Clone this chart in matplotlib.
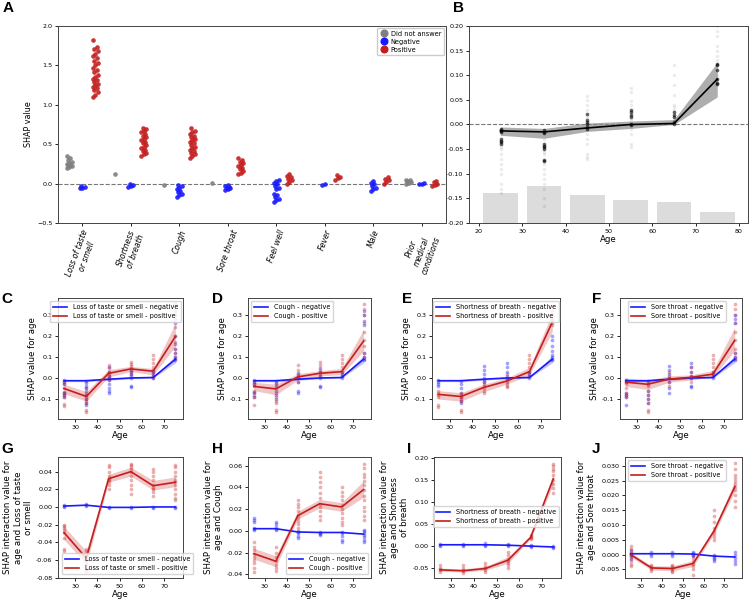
import matplotlib
matplotlib.use("Agg")
import matplotlib.pyplot as plt
from matplotlib.lines import Line2D

plt.rcParams['font.family'] = ['DejaVu Sans']
plt.rcParams['axes.edgecolor'] = '#444444'
plt.rcParams['axes.linewidth'] = 0.7
plt.rcParams['xtick.major.size'] = 2.5
plt.rcParams['ytick.major.size'] = 2.5
plt.rcParams['xtick.major.width'] = 0.6
plt.rcParams['ytick.major.width'] = 0.6
plt.rcParams['xtick.major.pad'] = 1.5
plt.rcParams['ytick.major.pad'] = 1.5

# ---------------- data: panel A ----------------
categories = ["Loss of taste\nor smell", "Shortness\nof breath", "Cough", "Sore throat",
              "Feel well", "Fever", "Male", "Prior\nmedical\nconditions"]
a_dna = [
    [0.20, 0.21, 0.22, 0.23, 0.24, 0.25, 0.26, 0.28, 0.30, 0.33, 0.35],
    [0.12],
    [-0.02],
    [0.01],
    [],
    [],
    [],
    [0.00, 0.01, 0.02, 0.03, 0.04, 0.05],
]
a_neg = [
    [-0.06, -0.05, -0.04, -0.03],
    [-0.04, -0.03, -0.02, -0.01],
    [-0.17, -0.15, -0.13, -0.11, -0.09, -0.07, -0.05, -0.03, -0.02],
    [-0.08, -0.07, -0.06, -0.05, -0.04, -0.03, -0.02],
    [-0.23, -0.21, -0.19, -0.17, -0.15, -0.13, -0.07, -0.05, -0.03, -0.01, 0.01, 0.03, 0.05],
    [-0.012, -0.005],
    [-0.09, -0.07, -0.05, -0.03, -0.01, 0.01, 0.03],
    [-0.01, 0.00, 0.01],
]
a_pos = [
    [1.10, 1.13, 1.16, 1.19, 1.21, 1.23, 1.25, 1.27, 1.29, 1.31, 1.33, 1.35, 1.38, 1.41,
     1.44, 1.47, 1.50, 1.53, 1.56, 1.59, 1.62, 1.65, 1.68, 1.71, 1.73, 1.82],
    [0.35, 0.37, 0.39, 0.41, 0.43, 0.45, 0.47, 0.49, 0.51, 0.53, 0.55, 0.57, 0.59, 0.61,
     0.63, 0.65, 0.67, 0.69, 0.71],
    [0.33, 0.35, 0.37, 0.39, 0.41, 0.43, 0.45, 0.47, 0.49, 0.51, 0.53, 0.55, 0.57, 0.59,
     0.61, 0.63, 0.65, 0.67, 0.70],
    [0.12, 0.14, 0.16, 0.18, 0.20, 0.22, 0.24, 0.26, 0.28, 0.30, 0.32],
    [0.00, 0.02, 0.04, 0.06, 0.08, 0.10, 0.12],
    [0.05, 0.07, 0.09, 0.11],
    [0.00, 0.02, 0.04, 0.06, 0.08],
    [-0.03, -0.015, 0.00, 0.015, 0.03],
]

# ---------------- data: panel B ----------------
ages = [25, 35, 45, 55, 65, 75]
b_mean = [-0.013, -0.015, -0.007, 0.000, 0.002, 0.092]
b_lo = [-0.022, -0.028, -0.014, -0.008, 0.000, 0.056]
b_hi = [-0.005, -0.008, 0.003, 0.007, 0.010, 0.126]
b_dense = [
    [-0.010, -0.012, -0.014, -0.016, -0.030, -0.033, -0.036, -0.040],
    [-0.012, -0.015, -0.018, -0.040, -0.043, -0.046, -0.050, -0.072, -0.075],
    [0.010, 0.005, 0.000, -0.005, -0.010, 0.022],
    [0.030, 0.025, 0.020, 0.015, 0.000, -0.002],
    [0.025, 0.020, 0.015, 0.005, 0.002],
    [0.123, 0.120, 0.110, 0.092, 0.085, 0.082],
]
b_faint = [
    [-0.02, -0.045, -0.05, -0.06, -0.07, -0.08, -0.09, -0.10, -0.12, -0.13, -0.14],
    [-0.03, -0.055, -0.06, -0.08, -0.09, -0.10, -0.11, -0.12, -0.13, -0.15, -0.165],
    [0.057, 0.05, 0.04, 0.03, 0.015, -0.02, -0.03, -0.04, -0.06, -0.065, -0.07],
    [0.075, 0.065, 0.047, 0.04, 0.01, -0.01, -0.02, -0.04, -0.045],
    [0.12, 0.10, 0.08, 0.06, 0.04, 0.035, 0.03, 0.01],
    [0.20, 0.19, 0.18, 0.16, 0.15, 0.14, 0.13, 0.10, 0.09],
]
b_hist = [0.060, 0.076, 0.056, 0.046, 0.042, 0.022]  # relative count of respondents per age bin

# ---------------- data: panels C-F (SHAP value for age) ----------------
neg_mean = [-0.013, -0.013, -0.006, 0.000, 0.002, 0.089]
neg_lo = [-0.017, -0.018, -0.011, -0.004, 0.000, 0.072]
neg_hi = [-0.009, -0.008, -0.002, 0.004, 0.005, 0.106]

c_pos_mean = [-0.050, -0.088, 0.022, 0.043, 0.032, 0.197]
c_pos_lo = [-0.075, -0.110, 0.005, 0.030, 0.015, 0.150]
c_pos_hi = [-0.030, -0.065, 0.040, 0.055, 0.045, 0.260]
c_neg_pts = [[-0.012, -0.02, -0.03, -0.065, -0.07, -0.08, -0.09],
             [-0.015, -0.025, -0.04, -0.05, -0.06, -0.08, -0.10, -0.12, -0.13],
             [0.05, 0.03, 0.01, 0.0, -0.01, -0.03, -0.05, -0.06, -0.07],
             [0.04, 0.03, 0.02, 0.01, 0.0, -0.04, -0.045],
             [0.04, 0.03, 0.02, 0.01, 0.0],
             [0.30, 0.26, 0.20, 0.16, 0.14, 0.12, 0.10, 0.09, 0.085]]
c_pos_pts = [[-0.02, -0.03, -0.05, -0.07, -0.08, -0.09, -0.125, -0.135],
             [-0.05, -0.07, -0.08, -0.09, -0.10, -0.11, -0.12, -0.15, -0.16],
             [0.06, 0.045, 0.03, 0.02, 0.01, 0.0, -0.01],
             [0.075, 0.065, 0.055, 0.045, 0.035, 0.02],
             [0.11, 0.09, 0.07, 0.05, 0.03, 0.01, 0.0],
             [0.35, 0.32, 0.28, 0.24, 0.20, 0.17, 0.14, 0.12, 0.10]]

d_pos_mean = [-0.040, -0.052, 0.005, 0.022, 0.030, 0.175]
d_pos_lo = [-0.060, -0.080, -0.010, 0.010, 0.015, 0.130]
d_pos_hi = [-0.020, -0.030, 0.020, 0.035, 0.045, 0.230]
d_neg_pts = [[-0.012, -0.02, -0.03, -0.065, -0.07, -0.09],
             [-0.015, -0.025, -0.04, -0.06, -0.08, -0.10],
             [0.025, 0.01, 0.0, -0.02, -0.06, -0.07],
             [0.045, 0.03, 0.01, 0.0, -0.04, -0.045],
             [0.03, 0.02, 0.01, 0.0],
             [0.32, 0.30, 0.27, 0.25, 0.12, 0.10, 0.09, 0.085]]
d_pos_pts = [[-0.02, -0.03, -0.04, -0.06, -0.08, -0.09, -0.13],
             [-0.03, -0.05, -0.07, -0.09, -0.11, -0.12, -0.15, -0.16],
             [0.06, 0.04, 0.02, 0.0, -0.02],
             [0.075, 0.06, 0.04, 0.03, 0.02, 0.01],
             [0.11, 0.09, 0.07, 0.05, 0.03, 0.01],
             [0.35, 0.33, 0.30, 0.26, 0.22, 0.18, 0.15, 0.12, 0.10]]

e_pos_mean = [-0.078, -0.088, -0.045, -0.015, 0.030, 0.265]
e_pos_lo = [-0.100, -0.110, -0.065, -0.030, 0.015, 0.220]
e_pos_hi = [-0.060, -0.070, -0.030, 0.000, 0.050, 0.310]
e_neg_pts = [[-0.012, -0.02, -0.03, -0.04],
             [-0.015, -0.03, -0.05, -0.07, -0.09, -0.11, -0.12],
             [0.055, 0.04, 0.02, 0.0, -0.01, -0.02],
             [0.07, 0.05, 0.03, 0.01, 0.0],
             [0.03, 0.02, 0.01, 0.0],
             [0.20, 0.18, 0.15, 0.13, 0.11, 0.10, 0.09, 0.085]]
e_pos_pts = [[-0.06, -0.07, -0.08, -0.09, -0.13, -0.14],
             [-0.07, -0.08, -0.09, -0.10, -0.11, -0.15, -0.16],
             [-0.02, -0.03, -0.04, -0.05, -0.06, -0.07],
             [0.02, 0.0, -0.01, -0.02, -0.03, -0.04, -0.045],
             [0.11, 0.09, 0.07, 0.05, 0.03, 0.01],
             [0.34, 0.32, 0.30, 0.28, 0.26, 0.25]]

f_pos_mean = [-0.020, -0.030, -0.005, 0.003, 0.018, 0.178]
f_pos_lo = [-0.040, -0.055, -0.020, -0.010, 0.005, 0.130]
f_pos_hi = [0.000, -0.010, 0.010, 0.015, 0.035, 0.240]
f_neg_pts = [[-0.012, -0.02, -0.07, -0.08, -0.09, -0.13],
             [-0.015, -0.03, -0.06, -0.08, -0.10, -0.12],
             [0.055, 0.04, 0.02, 0.0, -0.02, -0.05, -0.07],
             [0.07, 0.05, 0.03, 0.01, 0.0, -0.04, -0.045],
             [0.03, 0.02, 0.01, 0.0],
             [0.30, 0.28, 0.26, 0.12, 0.10, 0.09, 0.085]]
f_pos_pts = [[-0.01, -0.02, -0.03, -0.05, -0.07, -0.08, -0.09],
             [-0.02, -0.04, -0.06, -0.08, -0.10, -0.12, -0.15, -0.16],
             [0.03, 0.01, 0.0, -0.02, -0.04],
             [0.05, 0.03, 0.01, 0.0, -0.02],
             [0.11, 0.09, 0.07, 0.05, 0.03, 0.01],
             [0.35, 0.33, 0.30, 0.26, 0.22, 0.18, 0.14, 0.12, 0.10]]

# ---------------- data: panels G-J (interaction values) ----------------
g_neg_mean = [0.001, 0.002, -0.0005, -0.0005, 0.0, 0.0]
g_pos_mean = [-0.029, -0.058, 0.032, 0.040, 0.024, 0.028]
g_pos_lo = [-0.037, -0.065, 0.028, 0.035, 0.019, 0.023]
g_pos_hi = [-0.022, -0.050, 0.037, 0.045, 0.030, 0.034]
g_neg_pts = [[0.0, 0.001, 0.002], [0.001, 0.002, 0.003], [-0.001, 0.0],
             [-0.001, 0.0], [-0.001, 0.0], [-0.001, 0.0]]
g_pos_pts = [[-0.02, -0.022, -0.024, -0.026, -0.03, -0.035, -0.048, -0.05],
             [-0.048, -0.05, -0.055, -0.06, -0.065, -0.07, -0.073],
             [0.048, 0.045, 0.04, 0.035, 0.032, 0.03, 0.028, 0.025, 0.02],
             [0.049, 0.047, 0.045, 0.043, 0.04, 0.035, 0.03, 0.025, 0.02, 0.015],
             [0.043, 0.04, 0.035, 0.03, 0.025, 0.022, 0.02, 0.017, 0.012],
             [0.047, 0.045, 0.04, 0.035, 0.03, 0.028, 0.025, 0.02, 0.015, 0.01, 0.008]]

h_neg_mean = [0.002, 0.002, -0.001, -0.0015, -0.0015, -0.003]
h_pos_mean = [-0.021, -0.028, 0.014, 0.025, 0.022, 0.038]
h_pos_lo = [-0.026, -0.033, 0.011, 0.021, 0.018, 0.031]
h_pos_hi = [-0.016, -0.023, 0.018, 0.029, 0.026, 0.046]
h_neg_pts = [[0.012, 0.01, 0.008, 0.003, 0.002, 0.001],
             [0.008, 0.006, 0.004, 0.002, 0.001],
             [0.0, -0.001, -0.002, -0.005, -0.007],
             [-0.001, -0.002, -0.003, -0.004],
             [-0.001, -0.002, -0.005, -0.008, -0.01],
             [0.001, 0.0, -0.002, -0.004, -0.006, -0.008, -0.01]]
h_pos_pts = [[-0.01, -0.015, -0.018, -0.021, -0.024, -0.027, -0.03, -0.034, -0.038],
             [-0.015, -0.02, -0.024, -0.028, -0.031, -0.034, -0.037],
             [0.028, 0.025, 0.022, 0.018, 0.015, 0.012, 0.009, 0.006, 0.003],
             [0.054, 0.05, 0.045, 0.04, 0.035, 0.03, 0.025, 0.022, 0.018, 0.014, 0.01],
             [0.04, 0.036, 0.032, 0.028, 0.024, 0.02, 0.016, 0.012, 0.008, 0.005],
             [0.062, 0.058, 0.052, 0.05, 0.046, 0.042, 0.038, 0.032, 0.028, 0.022, 0.018, 0.014, 0.01]]

i_neg_mean = [0.002, 0.002, 0.002, 0.001, -0.001, -0.003]
i_pos_mean = [-0.055, -0.057, -0.052, -0.033, 0.019, 0.152]
i_pos_lo = [-0.058, -0.060, -0.056, -0.040, 0.016, 0.140]
i_pos_hi = [-0.051, -0.053, -0.047, -0.025, 0.022, 0.163]
i_neg_pts = [[0.0, 0.002, 0.004], [0.0, 0.002, 0.004], [0.0, 0.002, 0.005],
             [-0.001, 0.001, 0.004], [-0.004, -0.001, 0.002], [-0.006, -0.003, -0.001]]
i_pos_pts = [[-0.045, -0.05, -0.053, -0.056, -0.06],
             [-0.045, -0.05, -0.055, -0.058, -0.063],
             [-0.04, -0.046, -0.05, -0.055, -0.06],
             [-0.015, -0.022, -0.03, -0.035, -0.04, -0.045, -0.05],
             [0.015, 0.018, 0.02, 0.022, 0.025],
             [0.185, 0.18, 0.175, 0.17, 0.16, 0.15, 0.14, 0.13, 0.12]]

j_neg_mean = [0.0003, 0.0003, 0.0003, 0.0002, -0.0005, -0.0008]
j_pos_mean = [0.0, -0.0045, -0.0047, -0.003, 0.008, 0.023]
j_pos_lo = [-0.0008, -0.0052, -0.0055, -0.0040, 0.0070, 0.0215]
j_pos_hi = [0.0008, -0.0038, -0.0038, -0.0020, 0.0090, 0.0250]
j_neg_pts = [[-0.0015, -0.0005, 0.0, 0.0005, 0.0015],
             [-0.0003, 0.0003, 0.0008],
             [-0.0003, 0.0003, 0.0008],
             [-0.0005, 0.0, 0.0005, 0.001],
             [-0.002, -0.0015, -0.001, -0.0005, 0.0],
             [-0.003, -0.002, -0.001, 0.0, 0.001]]
j_pos_pts = [[0.003, 0.002, 0.001, 0.0, -0.001, -0.002, -0.003, -0.004],
             [-0.0035, -0.004, -0.0045, -0.005, -0.0055],
             [-0.0035, -0.004, -0.0045, -0.005, -0.0055, -0.006],
             [0.0, -0.001, -0.002, -0.003, -0.004, -0.005, -0.007],
             [0.015, 0.013, 0.011, 0.009, 0.008, 0.007, 0.006, 0.005],
             [0.031, 0.029, 0.027, 0.026, 0.025, 0.024, 0.023, 0.022, 0.02, 0.018, 0.016]]

# ---------------- figure ----------------
W, H = 750, 604
fig = plt.figure(figsize=(W / 100, H / 100), dpi=100)

def add_ax(l, t, r, b):
    return fig.add_axes([l / W, 1 - b / H, (r - l) / W, (b - t) / H])

def letter(x, y, s):
    fig.text(x / W, 1 - y / H, s, fontsize=11, fontweight='bold',
             family=['Liberation Sans', 'DejaVu Sans'], ha='left', va='top')

BLUE = '#1a1aff'
RED = '#c41e1e'
GREY = '#7f7f7f'
TICK_FS = 4.6
LAB_FS = 6.2
LEG_FS = 4.7

# ---- Panel A ----
axA = add_ax(58, 26, 446, 223)
jit = [-0.05, 0.0, 0.05, -0.025, 0.025]
groups = [(a_dna, GREY, -0.27, 'Did not answer'), (a_neg, BLUE, 0.0, 'Negative'),
          (a_pos, RED, 0.27, 'Positive')]
for vals, col, off, lab in groups:
    for i, v in enumerate(vals):
        xs = [i + off + jit[k % len(jit)] for k in range(len(v))]
        axA.scatter(xs, v, s=11, color=col, alpha=0.9, linewidths=0, zorder=3)
axA.axhline(0, color='#777777', ls='--', lw=0.8, zorder=1)
axA.set_xlim(-0.5, len(categories) - 0.5)
axA.set_ylim(-0.5, 2.0)
axA.set_yticks([-0.5, 0.0, 0.5, 1.0, 1.5, 2.0])
axA.set_xticks(range(len(categories)))
axA.set_xticklabels(categories, rotation=70, style='italic', fontsize=5.6, ha='center')
axA.tick_params(axis='y', labelsize=TICK_FS)
axA.set_ylabel('SHAP value', fontsize=5.8, labelpad=3)
handles = [Line2D([], [], marker='o', ls='', color=c, markersize=4.8, label=l)
           for _, c, _, l in groups]
axA.legend(handles=handles, loc='upper right', fontsize=4.8, handletextpad=0.3,
           borderpad=0.4, labelspacing=0.3, framealpha=1.0, edgecolor='#cccccc',
           handlelength=1.4, borderaxespad=0.3)

# ---- Panel B ----
axB = add_ax(469, 26, 748, 223)
axB.bar(ages, b_hist, bottom=-0.2, width=8, color='#dcdcdc', zorder=1)
for i, a in enumerate(ages):
    axB.scatter([a] * len(b_faint[i]), b_faint[i], s=6, color='black', alpha=0.08,
                linewidths=0, zorder=2)
    axB.scatter([a] * len(b_dense[i]), b_dense[i], s=7, color='black', alpha=0.6,
                linewidths=0, zorder=3)
axB.fill_between(ages, b_lo, b_hi, color='#8c8c8c', alpha=0.7, linewidth=0, zorder=2)
axB.plot(ages, b_mean, color='black', lw=1.2, zorder=4)
axB.axhline(0, color='#777777', ls='--', lw=0.8, zorder=1)
axB.set_xlim(17.7, 82.1)
axB.set_ylim(-0.2, 0.2)
axB.set_xticks([20, 30, 40, 50, 60, 70, 80])
axB.set_yticks([-0.20, -0.15, -0.10, -0.05, 0.00, 0.05, 0.10, 0.15, 0.20])
axB.yaxis.set_major_formatter(matplotlib.ticker.FormatStrFormatter('%.2f'))
axB.tick_params(labelsize=TICK_FS)
axB.set_xlabel('Age', fontsize=LAB_FS, labelpad=1)

# ---- Age panels ----
def age_panel(box, neg_pts, pos_pts, n_mean, n_lo, n_hi, p_mean, p_lo, p_hi,
              name, ylim, yticks, ylabel, leg_xy, fmt):
    ax = add_ax(*box)
    for i, a in enumerate(ages):
        ax.scatter([a] * len(neg_pts[i]), neg_pts[i], s=7, color=BLUE, alpha=0.4,
                   linewidths=0, zorder=2)
        ax.scatter([a] * len(pos_pts[i]), pos_pts[i], s=7, color=RED, alpha=0.35,
                   linewidths=0, zorder=2)
    if n_lo is not None:
        ax.fill_between(ages, n_lo, n_hi, color=BLUE, alpha=0.25, linewidth=0, zorder=3)
    ax.fill_between(ages, p_lo, p_hi, color=RED, alpha=0.25, linewidth=0, zorder=3)
    ax.plot(ages, n_mean, color=BLUE, lw=1.2, zorder=4, label=f'{name} - negative')
    ax.plot(ages, p_mean, color=RED, lw=1.2, zorder=4, label=f'{name} - positive')
    ax.set_xlim(22.3, 78.4)
    ax.set_ylim(*ylim)
    ax.set_xticks([30, 40, 50, 60, 70])
    ax.set_yticks(yticks)
    ax.yaxis.set_major_formatter(matplotlib.ticker.FormatStrFormatter(fmt))
    ax.tick_params(labelsize=TICK_FS)
    ax.set_xlabel('Age', fontsize=LAB_FS, labelpad=1)
    ax.set_ylabel(ylabel, fontsize=LAB_FS, labelpad=2)
    ax.legend(loc='upper left', bbox_to_anchor=(leg_xy[0] / W, 1 - leg_xy[1] / H),
              bbox_transform=fig.transFigure, fontsize=LEG_FS, borderpad=0.45,
              labelspacing=0.5, handlelength=2.2, borderaxespad=0, framealpha=0.8,
              edgecolor='#cccccc')
    return ax

row2 = (298, 419)
ytick_cf = [-0.1, 0.0, 0.1, 0.2, 0.3]
ylim_cf = (-0.195, 0.38)
age_panel((58, row2[0], 183, row2[1]), c_neg_pts, c_pos_pts, neg_mean, neg_lo, neg_hi,
          c_pos_mean, c_pos_lo, c_pos_hi, 'Loss of taste or smell', ylim_cf, ytick_cf,
          'SHAP value for age', (50, 301), '%.1f')
age_panel((248, row2[0], 371, row2[1]), d_neg_pts, d_pos_pts, neg_mean, neg_lo, neg_hi,
          d_pos_mean, d_pos_lo, d_pos_hi, 'Cough', ylim_cf, ytick_cf,
          'SHAP value for age', (251, 301), '%.1f')
age_panel((432, row2[0], 560, row2[1]), e_neg_pts, e_pos_pts, neg_mean, neg_lo, neg_hi,
          e_pos_mean, e_pos_lo, e_pos_hi, 'Shortness of breath', ylim_cf, ytick_cf,
          'SHAP value for age', (433, 301), '%.1f')
age_panel((620, row2[0], 742, row2[1]), f_neg_pts, f_pos_pts, neg_mean, neg_lo, neg_hi,
          f_pos_mean, f_pos_lo, f_pos_hi, 'Sore throat', ylim_cf, ytick_cf,
          'SHAP value for age', (628, 301), '%.1f')

row3 = (457, 578)
age_panel((58, row3[0], 183, row3[1]), g_neg_pts, g_pos_pts, g_neg_mean, None, None,
          g_pos_mean, g_pos_lo, g_pos_hi, 'Loss of taste or smell', (-0.0805, 0.0566),
          [-0.08, -0.06, -0.04, -0.02, 0.00, 0.02, 0.04],
          'SHAP interaction value for\nage and Loss of taste\nor smell', (62, 553), '%.2f')
age_panel((248, row3[0], 371, row3[1]), h_neg_pts, h_pos_pts, h_neg_mean, None, None,
          h_pos_mean, h_pos_lo, h_pos_hi, 'Cough', (-0.0434, 0.068),
          [-0.04, -0.02, 0.00, 0.02, 0.04, 0.06],
          'SHAP interaction value for\nage and Cough', (286, 553), '%.2f')
age_panel((434, row3[0], 561, row3[1]), i_neg_pts, i_pos_pts, i_neg_mean, None, None,
          i_pos_mean, i_pos_lo, i_pos_hi, 'Shortness of breath', (-0.0735, 0.2015),
          [-0.05, 0.00, 0.05, 0.10, 0.15, 0.20],
          'SHAP interaction value for\nage and Shortness\nof breath', (433, 506), '%.2f')
age_panel((625, row3[0], 742, row3[1]), j_neg_pts, j_pos_pts, j_neg_mean, None, None,
          j_pos_mean, j_pos_lo, j_pos_hi, 'Sore throat', (-0.0079, 0.033),
          [-0.005, 0.000, 0.005, 0.010, 0.015, 0.020, 0.025, 0.030],
          'SHAP interaction value for\nage and Sore throat', (628, 460), '%.3f')

for s, x, y in [('A', 3, 1), ('B', 453, 1), ('C', 1, 292), ('D', 212, 292), ('E', 402, 292),
                ('F', 592, 292), ('G', 1, 442), ('H', 212, 442), ('I', 407, 442), ('J', 592, 442)]:
    letter(x, y, s)

fig.savefig('out.png', dpi=100)
